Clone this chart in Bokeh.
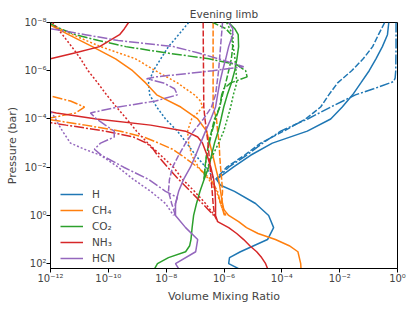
import numpy as np
from bokeh.plotting import figure
from bokeh.models import FixedTicker, CustomJSTickFormatter, Legend, LegendItem, Range1d
from bokeh.embed import file_html
from bokeh.resources import INLINE

# ---------------- data (pressure in bar, volume mixing ratio) ----------------
# H
h_solid_p = [1e-8, 3.2e-8, 1e-7, 3.2e-7, 1e-6, 3.2e-6, 1e-5, 3.2e-5, 1e-4, 3.2e-4, 1e-3, 3.2e-3, 1e-2,
             3.2e-2, 5.6e-2, 0.1, 0.32, 1, 3.2, 10, 32, 56, 100, 160]
h_solid_x = [0.50, 0.45, 0.30, 0.18, 0.105, 0.054, 0.028, 0.0123, 4.9e-3, 7.6e-4, 4.7e-5, 8.3e-6, 2.1e-6,
             5.5e-7, 7.6e-7, 2.3e-6, 1.23e-5, 3.5e-5, 5.2e-5, 3.2e-5, 3.7e-6, 1.55e-6, 1.45e-6, 3.2e-6]
h_dash_p = [1e-8, 3.2e-8, 1e-7, 3.2e-7, 1e-6, 3.2e-6, 1e-5, 3.2e-5, 1e-4, 3.2e-4, 1e-3, 3.2e-3, 1e-2, 3.2e-2]
h_dash_x = [0.36, 0.22, 0.138, 0.065, 0.026, 8.5e-3, 4.2e-3, 2.2e-3, 6.6e-4, 1.15e-4, 1.86e-5, 5.1e-6,
            1.23e-6, 5.1e-7]
h_dashdot_p = [1e-8, 1e-7, 1e-6, 2.0e-6, 2.8e-6, 5.6e-6, 1e-5, 3.2e-5, 1e-4, 3.2e-4, 1e-3, 3.2e-3, 1e-2, 3.2e-2]
h_dashdot_x = [0.89, 0.89, 0.87, 0.83, 0.74, 0.15, 0.035, 4.9e-3, 7.8e-4, 9.1e-5, 2.2e-5, 6.0e-6, 1.45e-6, 5.5e-7]
h_dot_p = [1e-8, 3.2e-8, 1e-7, 3.2e-7, 1e-6, 3.2e-6, 1e-5, 3.2e-5, 1e-4, 3.2e-4, 1e-3, 3.2e-3, 1e-2, 3.2e-2]
h_dot_x = [6.0e-8, 2.7e-8, 1.2e-8, 6.5e-9, 3.6e-9, 2.45e-9, 2.7e-9, 4.7e-9, 9.5e-9, 2.45e-8, 5.1e-8, 1.05e-7,
           2.3e-7, 4.7e-7]

# CH4
ch4_solid_p = [1e-8, 3.2e-8, 1e-7, 3.2e-7, 1e-6, 3.2e-6, 1e-5, 3.2e-5, 1e-4, 3.2e-4, 1e-3, 3.2e-3, 1e-2,
               3.2e-2, 0.1, 0.32, 0.56, 1, 1.8, 3.2, 5.6, 10, 18, 32, 100, 160]
ch4_solid_x = [6.8e-13, 4.2e-12, 2.8e-11, 1.78e-10, 6.9e-10, 1.95e-9, 4.7e-9, 3.2e-8, 1.23e-7, 2.5e-7, 3.2e-7,
               4.1e-7, 5.1e-7, 6.5e-7, 7.6e-7, 8.9e-7, 9.8e-7, 1.45e-6, 3.2e-6, 6.0e-6, 1.5e-5, 6.0e-5,
               1.8e-4, 3.6e-4, 4.5e-4, 4.6e-4]
ch4_dash_p = [1e-8, 3.2e-5, 1e-4, 3.2e-4, 1e-3, 3.2e-3, 1e-2, 3.2e-2, 0.1, 0.32, 1]
ch4_dash_x = [4.2e-7, 4.2e-7, 5.5e-7, 6.0e-7, 6.8e-7, 7.1e-7, 7.6e-7, 8.3e-7, 8.9e-7, 8.3e-7, 1.15e-6]
ch4_dashdot_p = [5.6e-6, 1e-5, 1.8e-5, 3.2e-5, 5.6e-5, 1e-4, 1.8e-4, 3.2e-4, 5.6e-4, 1e-3, 1.8e-3, 3.2e-3,
                 1e-2, 3.2e-2, 0.1, 0.32, 1]
ch4_dashdot_x = [1e-13, 6.8e-13, 4.9e-12, 1.5e-11, 7.4e-12, 6.8e-13, 1.6e-11, 2.6e-10, 1.66e-9, 5.5e-9,
                 1.66e-8, 3.4e-8, 1.23e-7, 3.5e-7, 6.0e-7, 7.6e-7, 1.05e-6]
ch4_dot_p = [1e-8, 3.2e-8, 1e-7, 3.2e-7, 1e-6, 3.2e-6, 1e-5, 1.8e-5, 3.2e-5, 5.6e-5, 1e-4, 3.2e-4, 1e-3,
             3.2e-3, 1e-2, 3.2e-2, 0.1, 0.32, 1]
ch4_dot_x = [7.2e-13, 5.8e-12, 5.4e-11, 8.7e-10, 4.3e-9, 2.45e-8, 9.5e-8, 1.55e-7, 1.8e-7, 1.23e-7, 7.6e-8,
             5.5e-8, 6.0e-8, 7.6e-8, 1.32e-7, 3.0e-7, 5.5e-7, 7.6e-7, 1.05e-6]

# CO2
co2_solid_p = [1e-8, 1.8e-8, 3.2e-8, 1e-7, 3.2e-7, 1e-6, 3.2e-6, 1e-5, 3.2e-5, 1e-4, 3.2e-4, 1e-3, 3.2e-3,
               1e-2, 3.2e-2, 0.1, 0.32, 1, 3.2, 10, 18, 32, 56, 100, 160]
co2_solid_x = [1.45e-6, 2.35e-6, 3.1e-6, 3.2e-6, 2.8e-6, 2.35e-6, 1.8e-6, 1.3e-6, 9.8e-7, 7.9e-7, 6.3e-7,
               4.7e-7, 3.7e-7, 2.95e-7, 2.05e-7, 1.48e-7, 1.12e-7, 8.9e-8, 7.9e-8, 7.2e-8, 6.5e-8, 4.7e-8,
               1.2e-8, 5.0e-9, 4.0e-9]
co2_dash_p = [1e-8, 1.8e-8, 3.2e-8, 1e-7, 3.2e-7, 1e-6, 3.2e-6, 1e-5, 3.2e-5, 1e-4, 3.2e-4, 1e-3, 3.2e-3,
              1e-2, 3.2e-2]
co2_dash_x = [4.1e-7, 1.15e-6, 1.8e-6, 2.0e-6, 1.8e-6, 1.45e-6, 1.15e-6, 8.9e-7, 7.1e-7, 4.7e-7, 3.7e-7,
              2.95e-7, 2.5e-7, 2.2e-7, 2.05e-7]
co2_dashdot_p = [1e-8, 1.8e-8, 3.2e-8, 5.6e-8, 1e-7, 1.8e-7, 3.2e-7, 5.6e-7, 1e-6, 1.8e-6, 3.2e-6, 5.6e-6,
                 1e-5, 3.2e-5, 1e-4, 3.2e-4, 1e-3, 3.2e-3, 1e-2, 3.2e-2]
co2_dashdot_x = [8.5e-13, 2.2e-12, 7.4e-12, 4.6e-11, 4.0e-10, 9.5e-9, 2.95e-7, 2.75e-6, 5.6e-6, 6.3e-6,
                 1.7e-6, 9.8e-7, 8.3e-7, 7.1e-7, 5.1e-7, 3.9e-7, 3.1e-7, 2.5e-7, 2.2e-7, 2.05e-7]
co2_dot_p = [1e-8, 3.2e-8, 1e-7, 3.2e-7, 1e-6, 3.2e-6, 1e-5, 3.2e-5, 1e-4, 3.2e-4, 1e-3, 3.2e-3, 1e-2, 3.2e-2]
co2_dot_x = [1.23e-6, 2.0e-6, 2.1e-6, 2.4e-6, 2.6e-6, 2.75e-6, 2.1e-6, 1.7e-6, 1.3e-6, 9.8e-7, 6.5e-7,
             4.1e-7, 2.7e-7, 2.05e-7]

# NH3
nh3_solid_p = [1e-8, 1.8e-8, 3.2e-8, 5.6e-8, 1e-7, 1.8e-7, 3.2e-7, 5.6e-7, 3.2e-6, 3.2e-5, 5.6e-5, 1e-4,
               1.8e-4, 3.2e-4, 5.6e-4, 1e-3, 3.2e-3, 1e-2, 3.2e-2, 0.1, 0.32, 1, 1.8, 3.2, 5.6, 10, 18, 32,
               56, 100, 160]
nh3_solid_x = [5.0e-10, 3.6e-10, 2.45e-10, 1.1e-10, 5.0e-11, 7.4e-12, 1e-12, 1.35e-13, 1e-14, 9e-14, 1.6e-12,
               3.9e-11, 2.9e-9, 4.7e-8, 1.23e-7, 1.8e-7, 2.6e-7, 3.5e-7, 4.4e-7, 4.9e-7, 5.1e-7, 5.1e-7,
               6.0e-7, 1.45e-6, 2.75e-6, 4.8e-6, 7.8e-6, 1.35e-5, 2.0e-5, 2.75e-5, 3.2e-5]
nh3_dash_p = [1e-8, 3.2e-5, 1e-4, 1e-3, 1e-2, 0.1, 0.32, 1, 1.8]
nh3_dash_x = [1.9e-7, 2.0e-7, 2.2e-7, 2.8e-7, 3.3e-7, 3.9e-7, 4.2e-7, 4.7e-7, 6.0e-7]
nh3_dashdot_p = [1e-4, 1.8e-4, 3.2e-4, 5.6e-4, 1e-3, 1.8e-3, 3.2e-3, 1e-2, 3.2e-2, 0.1, 0.32, 1]
nh3_dashdot_x = [1.5e-13, 3.5e-12, 7.9e-11, 7.4e-10, 2.1e-9, 3.6e-9, 5.0e-9, 1.12e-8, 2.7e-8, 6.9e-8,
                 1.8e-7, 4.4e-7]
nh3_dot_p = [1e-8, 3.2e-8, 1e-7, 3.2e-7, 1e-6, 3.2e-6, 1e-5, 3.2e-5, 1e-4, 3.2e-4, 1e-3, 3.2e-3, 1e-2,
             3.2e-2, 0.1, 0.32, 1]
nh3_dot_x = [1.17e-12, 2.6e-12, 5.4e-12, 1.1e-11, 2.0e-11, 4.3e-11, 8.7e-11, 1.9e-10, 4.3e-10, 9.5e-10,
             2.3e-9, 6.5e-9, 1.8e-8, 3.7e-8, 9.5e-8, 2.3e-7, 4.7e-7]

# HCN
hcn_solid_p = [1e-8, 1.8e-8, 3.2e-8, 1e-7, 3.2e-7, 1e-6, 3.2e-6, 1e-5, 3.2e-5, 1e-4, 3.2e-4, 1e-3, 3.2e-3,
               1e-2, 3.2e-2, 0.1, 0.32, 1, 3.2, 10, 32, 100, 160]
hcn_solid_x = [1.45e-6, 2.0e-6, 2.0e-6, 1.45e-6, 1.15e-6, 8.9e-7, 7.1e-7, 6.0e-7, 5.1e-7, 3.5e-7, 2.3e-7,
               1.55e-7, 1.05e-7, 6.9e-8, 4.0e-8, 2.7e-8, 2.1e-8, 2.1e-8, 4.7e-8, 1.23e-7, 1.05e-7, 2.1e-8,
               2.7e-8]
hcn_dash_p = [1e-8, 1e-7, 1e-6, 1e-5, 3.2e-5, 1e-4, 3.2e-4, 1e-3, 3.2e-3, 1e-2, 3.2e-2, 0.1, 0.32, 1]
hcn_dash_x = [8.9e-7, 7.6e-7, 6.5e-7, 5.1e-7, 3.7e-7, 1.95e-7, 8.9e-8, 4.7e-8, 2.7e-8, 1.66e-8, 1.3e-8,
              1.2e-8, 1.55e-8, 2.1e-8]
hcn_dashdot_p = [1e-8, 1.8e-8, 3.2e-8, 5.6e-8, 1e-7, 1.8e-7, 3.2e-7, 5.6e-7, 6.8e-7, 1e-6, 1.8e-6, 2.15e-6,
                 3.2e-6, 5.6e-6, 1e-5, 1.8e-5, 3.2e-5, 5.6e-5, 1e-4, 1.8e-4, 3.2e-4, 5.6e-4, 1e-3, 1.8e-3,
                 3.2e-3, 5.6e-3, 1e-2, 3.2e-2, 0.1, 0.18, 0.32, 1]
hcn_dashdot_x = [3.0e-13, 1.0e-12, 1.6e-11, 2.2e-10, 1.8e-8, 1.23e-7, 6.5e-7, 2.95e-6, 4.8e-6, 4.1e-7, 4.3e-9,
                 2.1e-9, 8.1e-9, 1.95e-8, 2.45e-8, 4.3e-9, 2.2e-10, 2.4e-11, 3.9e-11, 7.9e-11, 1.6e-10,
                 1.6e-10, 5.4e-11, 3.3e-11, 5.8e-11, 1.4e-10, 3.4e-10, 2.45e-9, 9.5e-9, 2.45e-8, 2.1e-8,
                 1.95e-8]
hcn_dot_p = [1e-5, 3.2e-5, 1e-4, 3.2e-4, 1e-3, 1.8e-3, 3.2e-3, 1e-2, 3.2e-2, 0.1, 0.32, 1]
hcn_dot_x = [4.5e-13, 8.5e-13, 1.5e-12, 2.6e-12, 4.9e-12, 1.5e-11, 5.4e-11, 2.2e-10, 7.4e-10, 2.9e-9, 9.5e-9,
             1.8e-8]

species = ["H", "CH₄", "CO₂", "NH₃", "HCN"]
colors = ["#1f77b4", "#ff7f0e", "#2ca02c", "#d62728", "#9467bd"]
x_ticks = [1e-12, 1e-10, 1e-8, 1e-6, 1e-4, 1e-2, 1e0]
y_ticks = [1e-8, 1e-6, 1e-4, 1e-2, 1e0, 1e2]

profiles = {
    "H": [(h_solid_p, h_solid_x), (h_dash_p, h_dash_x), (h_dashdot_p, h_dashdot_x), (h_dot_p, h_dot_x)],
    "CH₄": [(ch4_solid_p, ch4_solid_x), (ch4_dash_p, ch4_dash_x), (ch4_dashdot_p, ch4_dashdot_x),
            (ch4_dot_p, ch4_dot_x)],
    "CO₂": [(co2_solid_p, co2_solid_x), (co2_dash_p, co2_dash_x), (co2_dashdot_p, co2_dashdot_x),
            (co2_dot_p, co2_dot_x)],
    "NH₃": [(nh3_solid_p, nh3_solid_x), (nh3_dash_p, nh3_dash_x), (nh3_dashdot_p, nh3_dashdot_x),
            (nh3_dot_p, nh3_dot_x)],
    "HCN": [(hcn_solid_p, hcn_solid_x), (hcn_dash_p, hcn_dash_x), (hcn_dashdot_p, hcn_dashdot_x),
            (hcn_dot_p, hcn_dot_x)],
}
dashes = ["solid", "6 2", "10 2 2 2", "2 2"]

FONT = "DejaVu Sans"

p = figure(width=410, height=306, x_axis_type="log", y_axis_type="log",
           x_range=Range1d(1e-12, 1.0), y_range=Range1d(10 ** 2.2, 1e-8),
           output_backend="svg", toolbar_location=None,
           min_border_left=50, min_border_right=13, min_border_top=22, min_border_bottom=38)

p.title.text = "Evening limb"
p.title.align = "center"
p.title.text_font = FONT
p.title.text_font_size = "10.5px"
p.title.text_font_style = "normal"
p.title.standoff = 5

sup_code = """
const sup = {"-": "\\u207b", "0": "\\u2070", "1": "\\u00b9", "2": "\\u00b2", "3": "\\u00b3",
             "4": "\\u2074", "5": "\\u2075", "6": "\\u2076", "7": "\\u2077", "8": "\\u2078", "9": "\\u2079"};
const e = Math.round(Math.log10(tick));
return "10" + String(e).split("").map(c => sup[c]).join("");
"""
for ax, ticks in ((p.xaxis, x_ticks), (p.yaxis, y_ticks)):
    ax.ticker = FixedTicker(ticks=ticks, minor_ticks=[])
    ax.formatter = CustomJSTickFormatter(code=sup_code)
    ax.major_label_text_font = FONT
    ax.major_label_text_font_size = "10px"
    ax.axis_label_text_font = FONT
    ax.axis_label_text_font_size = "11px"
    ax.axis_label_text_font_style = "normal"
    ax.major_tick_out = 4
    ax.major_tick_in = 0
    ax.minor_tick_out = 0
    ax.minor_tick_in = 0
    ax.major_label_standoff = 0
    ax.axis_line_color = "black"
    ax.major_tick_line_color = "black"

p.xaxis.axis_label = "Volume Mixing Ratio"
p.yaxis.axis_label = "Pressure (bar)"
p.xaxis.axis_label_standoff = 3
p.yaxis.axis_label_standoff = 2
p.xgrid.visible = False
p.ygrid.visible = False
p.outline_line_color = "black"
p.outline_line_width = 1

legend_items = []
for sp, col in zip(species, colors):
    for k, (pp, xx) in enumerate(profiles[sp]):
        r = p.line(xx, pp, line_color=col, line_width=1.5, line_dash=dashes[k])
        if k == 0:
            legend_items.append(LegendItem(label=sp, renderers=[r]))

leg = Legend(items=legend_items, location=(10, 4))
leg.border_line_color = None
leg.background_fill_alpha = 0
leg.padding = 0
leg.margin = 0
leg.spacing = 4
leg.glyph_width = 23
leg.glyph_height = 12
leg.label_height = 12
leg.label_standoff = 9
leg.label_text_font = FONT
leg.label_text_font_size = "10.5px"
p.add_layout(leg, "center")

open("out.html", "w").write(file_html(p, INLINE))
